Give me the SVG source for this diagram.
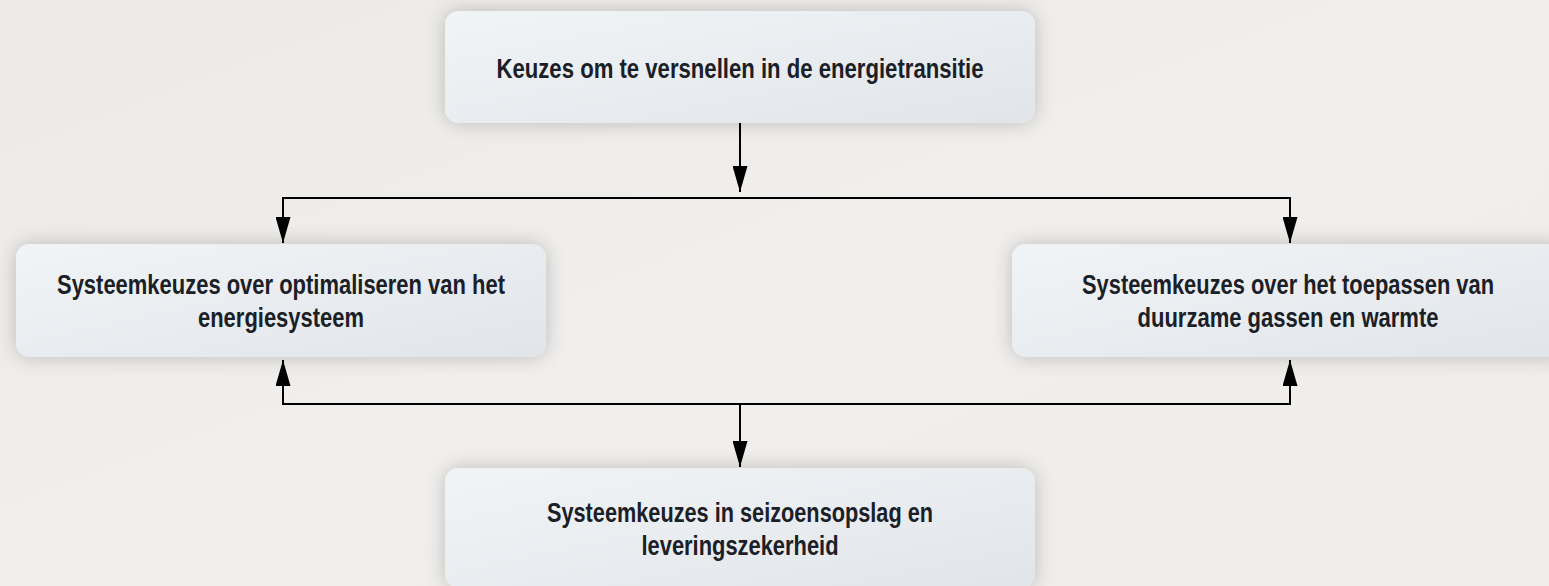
<svg xmlns="http://www.w3.org/2000/svg" width="1549" height="586" viewBox="0 0 1549 586">
  <defs>
    <linearGradient id="bg" x1="0" y1="0" x2="1" y2="1">
      <stop offset="0" stop-color="#ebeae7"/>
      <stop offset="0.5" stop-color="#f0efed"/>
      <stop offset="1" stop-color="#eeedea"/>
    </linearGradient>
    <linearGradient id="box" x1="0" y1="0" x2="1" y2="1">
      <stop offset="0" stop-color="#f1f4f7"/>
      <stop offset="1" stop-color="#e1e5e9"/>
    </linearGradient>
    <filter id="shadow" x="-20%" y="-40%" width="140%" height="180%">
      <feGaussianBlur in="SourceAlpha" stdDeviation="10"/>
      <feComponentTransfer><feFuncA type="linear" slope="0.22"/></feComponentTransfer>
      <feMerge><feMergeNode/><feMergeNode in="SourceGraphic"/></feMerge>
    </filter>
    <marker id="arrow" markerUnits="userSpaceOnUse" markerWidth="26" markerHeight="15" refX="26" refY="7.5" orient="auto" viewBox="0 0 26 15">
      <path d="M0,0 L26,7.5 L0,15 Z" fill="#000"/>
    </marker>
  </defs>
  <style>
    .node rect { fill: url(#box); filter: url(#shadow); }
    .node text { font-family: "Liberation Sans", Arial, sans-serif; font-weight: bold; font-size: 27px; fill: #1b2027; text-anchor: middle; }
    .conn path { fill: none; stroke: #000; stroke-width: 2; }
  </style>
  <rect x="0" y="0" width="1549" height="586" fill="url(#bg)"/>

  <g id="node-top" class="node">
    <rect x="445" y="11" width="590" height="112" rx="14"/>
    <text x="740" y="78" textLength="487" lengthAdjust="spacingAndGlyphs">Keuzes om te versnellen in de energietransitie</text>
  </g>
  <g id="node-left" class="node">
    <rect x="16" y="244" width="530" height="113" rx="14"/>
    <text x="281" y="294" textLength="448" lengthAdjust="spacingAndGlyphs">Systeemkeuzes over optimaliseren van het</text>
    <text x="281" y="327" textLength="166" lengthAdjust="spacingAndGlyphs">energiesysteem</text>
  </g>
  <g id="node-right" class="node">
    <rect x="1012" y="244" width="556" height="113" rx="14"/>
    <text x="1288" y="294" textLength="412" lengthAdjust="spacingAndGlyphs">Systeemkeuzes over het toepassen van</text>
    <text x="1288" y="327" textLength="301" lengthAdjust="spacingAndGlyphs">duurzame gassen en warmte</text>
  </g>
  <g id="node-bottom" class="node">
    <rect x="445" y="468" width="590" height="120" rx="14"/>
    <text x="740" y="522" textLength="386" lengthAdjust="spacingAndGlyphs">Systeemkeuzes in seizoensopslag en</text>
    <text x="740" y="555" textLength="197" lengthAdjust="spacingAndGlyphs">leveringszekerheid</text>
  </g>

  <g id="connectors" class="conn">
    <path d="M740,123 V192" marker-end="url(#arrow)"/>
    <path d="M283,230 V198 H1290 V230"/>
    <path d="M283,212 V243" marker-end="url(#arrow)"/>
    <path d="M1290,212 V243" marker-end="url(#arrow)"/>
    <path d="M283,372 V404 H1290 V372"/>
    <path d="M283,390 V360" marker-end="url(#arrow)"/>
    <path d="M1290,390 V360" marker-end="url(#arrow)"/>
    <path d="M740,404 V467" marker-end="url(#arrow)"/>
  </g>
</svg>
